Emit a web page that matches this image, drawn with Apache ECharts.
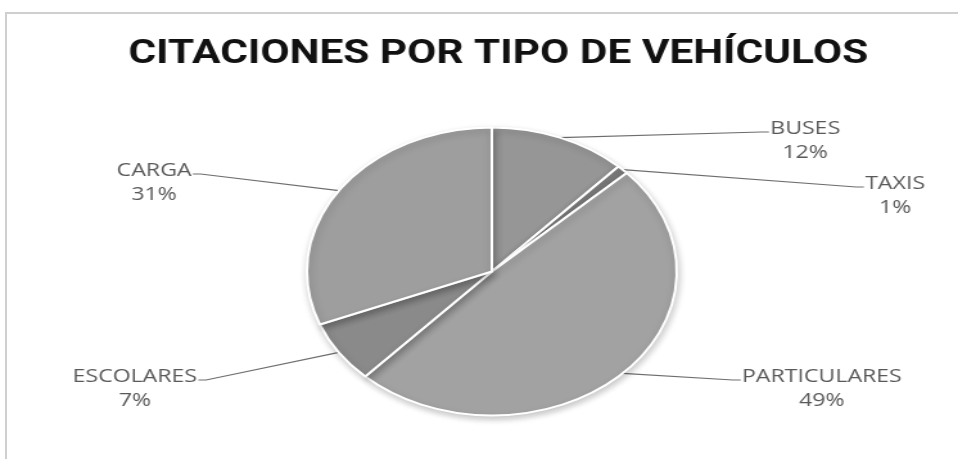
<!DOCTYPE html>
<html><head><meta charset="utf-8">
<script src="https://cdn.jsdelivr.net/npm/echarts@6/dist/echarts.min.js"></script>
<style>
html,body{margin:0;padding:0;background:#fff;overflow:hidden;width:958px;height:459px}
#c{width:746px;height:459px;position:absolute;left:0;top:0;transform:scaleX(1.2842);transform-origin:0 0}
#frame{position:absolute;left:5px;top:12px;width:1000px;height:500px;border:2px solid #cfcfcf;pointer-events:none}
</style></head>
<body><div id="c"></div><div id="frame"></div>
<script>
const titleText = 'CITACIONES POR TIPO DE VEHÍCULOS';
const categories = ['BUSES', 'TAXIS', 'PARTICULARES', 'ESCOLARES', 'CARGA'];
const values = [12, 1, 49, 7, 31];

const sliceColors = ['#969696', '#7e7e7e', '#a2a2a2', '#8a8a8a', '#9e9e9e'];
// label block centres in the (unstretched) chart frame
const labelSpots = [[627, 141], [697, 196], [640, 389], [105, 389], [120, 183]];

const chart = echarts.init(document.getElementById('c'));
chart.setOption({
  backgroundColor: 'transparent',
  animation: false,
  title: {
    text: titleText,
    left: 95,
    top: 33,
    textStyle: { fontFamily: 'Roboto', fontWeight: 'bold', fontSize: 33, color: '#111111' }
  },
  series: [{
    type: 'pie',
    center: [383, 271.5],
    radius: 144,
    startAngle: 90,
    clockwise: true,
    percentPrecision: 0,
    data: categories.map((c, i) => ({ name: c, value: values[i], itemStyle: { color: sliceColors[i] } })),
    itemStyle: { borderColor: '#ffffff', borderWidth: 2, shadowBlur: 6, shadowColor: 'rgba(0,0,0,0.22)', shadowOffsetY: 3, shadowOffsetX: 1 },
    label: {
      show: true,
      position: 'outside',
      formatter: '{b}\n{d}%',
      fontFamily: 'Open Sans',
      fontSize: 18,
      lineHeight: 24,
      color: '#595959',
      align: 'center'
    },
    labelLine: { show: true, length: 20, length2: 10, lineStyle: { color: '#6e6e6e', width: 1.2 } },
    labelLayout: function (p) {
      const s = labelSpots[p.dataIndex];
      const w = p.labelRect.width, h = p.labelRect.height;
      const firstY = s[1] - h / 4 + 3;
      const isLeft = s[0] < 383;
      const endX = isLeft ? s[0] + w / 2 + 1 : s[0] - w / 2 - 1;
      const pts = p.labelLinePoints;
      const midX = isLeft ? endX + 6 : endX - 6;
      return {
        x: s[0], y: s[1], align: 'center', verticalAlign: 'middle',
        labelLinePoints: [pts[0], [midX, firstY], [endX, firstY]]
      };
    }
  }]
});
</script>
</body></html>
